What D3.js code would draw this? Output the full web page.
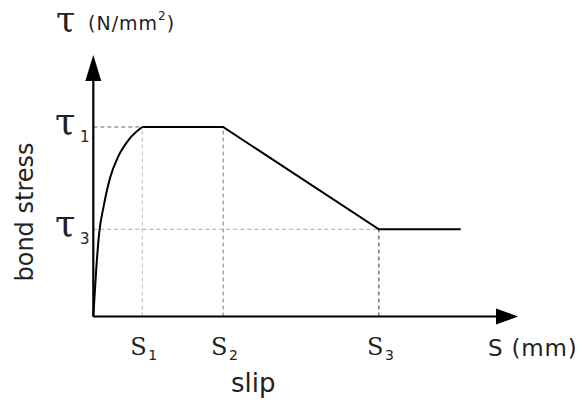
<!DOCTYPE html>
<html><head><meta charset="utf-8">
<script src="https://cdn.jsdelivr.net/npm/d3@7"></script>
<style>body{margin:0;background:#fff}svg{display:block}
.serif{font-family:"DejaVu Serif",serif}
.sans{font-family:"DejaVu Sans",Verdana,sans-serif}
</style>
</head><body>
<script>
// ---- data ----
const slipKeys = ["1", "2", "3"];           // S1, S2, S3 subscripts
const slipValues = [1.0, 2.65, 5.83];       // S1, S2, S3 (relative units)
const slipEnd = 7.5;                        // end of residual branch
const slipMax = 8.67;                       // axis arrow tip
const tauKeys = ["1", "3"];
const tauValues = [1.0, 0.46];              // tau1, tau3
const tauMax = 1.38;
// ascending branch (s, tau)
const riseSlip = [0, 0.06, 0.12, 0.21, 0.34, 0.51, 0.73, 1.0];
const riseTau  = [0, 0.25, 0.44, 0.58, 0.73, 0.845, 0.935, 1.0];
// remaining linear branches
const restSlip = [1.0, 2.65, 5.83, slipEnd];
const restTau  = [1.0, 1.0, 0.46, 0.46];

const W = 582, H = 402;
const svg = d3.select("body").append("svg").attr("width", W).attr("height", H);
const x = d3.scaleLinear().domain([0, slipMax]).range([93.3, 518]);
const y = d3.scaleLinear().domain([0, tauMax]).range([316.5, 55]);

// guides
const guides = [
  {x1: 0, y1: tauValues[0], x2: slipValues[0], y2: tauValues[0], c: "#666"},
  {x1: slipValues[0], y1: 0, x2: slipValues[0], y2: tauValues[0], c: "#bbb"},
  {x1: slipValues[1], y1: 0, x2: slipValues[1], y2: tauValues[0], c: "#777"},
  {x1: 0, y1: tauValues[1], x2: slipValues[2], y2: tauValues[1], c: "#aaa"},
  {x1: slipValues[2], y1: 0, x2: slipValues[2], y2: tauValues[1], c: "#333"}
];
svg.selectAll("line.g").data(guides).join("line").attr("class", "g")
  .attr("x1", d => x(d.x1)).attr("y1", d => y(d.y1))
  .attr("x2", d => x(d.x2)).attr("y2", d => y(d.y2))
  .attr("stroke", d => d.c).attr("stroke-width", 1).attr("stroke-dasharray", "4,3");

// axes
const xAxis = d3.axisBottom(x).tickValues([]).tickSize(0).tickSizeOuter(0);
const yAxis = d3.axisLeft(y).tickValues([]).tickSize(0).tickSizeOuter(0);
const gx = svg.append("g").attr("transform", `translate(0,${y(0)})`).call(xAxis);
const gy = svg.append("g").attr("transform", `translate(${x(0)},0)`).call(yAxis);
gx.select(".domain").attr("d", `M${x(0)},0H${x(slipMax) - 20}`).attr("stroke", "#000").attr("stroke-width", 2.2);
gy.select(".domain").attr("d", `M0,${y(0)}V${y(tauMax) + 24}`).attr("stroke", "#000").attr("stroke-width", 2.2);
// arrow heads
svg.append("path").attr("d", `M${x(slipMax)},${y(0)}L${x(slipMax)-22},${y(0)-8}L${x(slipMax)-22},${y(0)+8}Z`).attr("fill", "#000");
svg.append("path").attr("d", `M${x(0)},${y(tauMax)}L${x(0)-8},${y(tauMax)+26}L${x(0)+8},${y(tauMax)+26}Z`).attr("fill", "#000");

// curve
const rise = riseSlip.map((s, i) => [s, riseTau[i]]);
const rest = restSlip.map((s, i) => [s, restTau[i]]);
svg.append("path").datum(rise)
  .attr("d", d3.line().x(d => x(d[0])).y(d => y(d[1])).curve(d3.curveMonotoneX))
  .attr("fill", "none").attr("stroke", "#000").attr("stroke-width", 2);
svg.append("path").datum(rest)
  .attr("d", d3.line().x(d => x(d[0])).y(d => y(d[1])))
  .attr("fill", "none").attr("stroke", "#000").attr("stroke-width", 2);

// S labels
slipValues.forEach((v, i) => {
  svg.append("text").attr("class", "serif").attr("x", x(v) - 12).attr("y", 355)
    .attr("font-size", 24).attr("fill", "#222").text("S");
  svg.append("text").attr("class", "sans").attr("x", x(v) + 6).attr("y", 360)
    .attr("font-size", 14).attr("fill", "#222").text(slipKeys[i]);
});
// tau labels
tauValues.forEach((v, i) => {
  svg.append("text").attr("class", "serif").attr("x", 55).attr("y", y(v) + 7)
    .attr("font-size", 37).attr("fill", "#222").text("τ");
  svg.append("text").attr("class", "sans").attr("x", 80).attr("y", y(v) + 15)
    .attr("font-size", 15).attr("fill", "#222").text(tauKeys[i]);
});
// y title
svg.append("text").attr("class", "serif").attr("x", 56).attr("y", 32)
  .attr("font-size", 35).attr("fill", "#222").text("τ");
const yt = svg.append("text").attr("class", "sans").attr("x", 88).attr("y", 30)
  .attr("fill", "#222").attr("font-size", 19).attr("letter-spacing", 1);
yt.append("tspan").text("(N/mm");
yt.append("tspan").attr("font-size", 12).attr("dy", -10).text("2");
yt.append("tspan").attr("dy", 10).text(")");
// x title
svg.append("text").attr("class", "sans").attr("x", 488).attr("y", 356)
  .attr("font-size", 23).attr("letter-spacing", 0.8).attr("fill", "#222").text("S (mm)");
svg.append("text").attr("class", "sans").attr("x", 231).attr("y", 392)
  .attr("font-size", 26).attr("fill", "#222").text("slip");
svg.append("text").attr("class", "sans").attr("transform", "translate(33,212) rotate(-90)")
  .attr("text-anchor", "middle").attr("font-size", 24).attr("fill", "#222").text("bond stress");
</script>
</body></html>
